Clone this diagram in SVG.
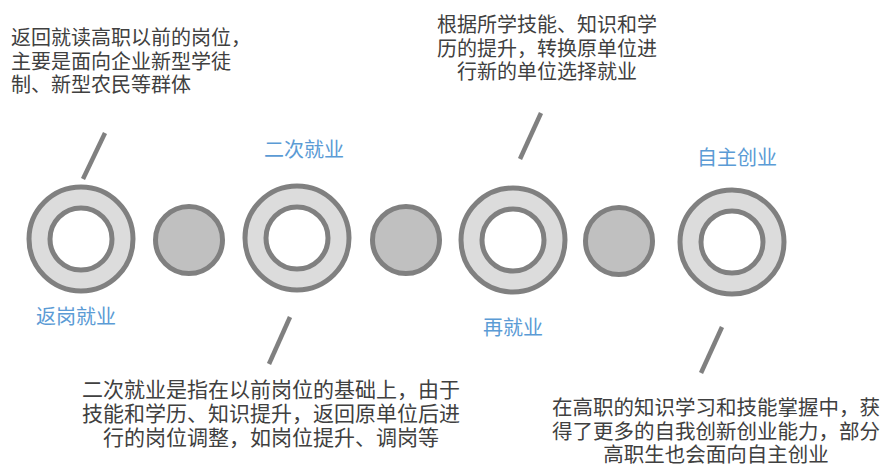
<svg xmlns="http://www.w3.org/2000/svg" width="890" height="466" viewBox="0 0 890 466">
<style>
.ring{fill:#dcdcdc;stroke:#808080;stroke-width:5}
.hole{fill:#ffffff;stroke:#808080;stroke-width:5}
.dot{fill:#c0c0c0;stroke:#808080;stroke-width:5}
.ln{stroke:#808080;stroke-width:4.5;fill:none}
.lbl{font-family:"Noto Sans CJK SC","Noto Sans",sans-serif;font-size:20px;fill:#5b9bd5;text-anchor:middle}
.txt{font-family:"Noto Sans CJK SC","Noto Sans",sans-serif;font-size:20px;fill:#404040}
</style>
<rect width="890" height="466" fill="#ffffff"/>
<g id="connectors">
<line class="ln" x1="105" y1="133" x2="83" y2="179"/>
<line class="ln" x1="290" y1="317" x2="269" y2="364"/>
<line class="ln" x1="541" y1="113" x2="520" y2="159"/>
<line class="ln" x1="722" y1="327" x2="701" y2="373"/>
</g>
<g id="node-fangang">
<circle class="ring" cx="81" cy="239" r="52"/>
<circle class="hole" cx="81" cy="239" r="31"/>
<text class="lbl" x="76" y="324">返岗就业</text>
</g>
<g id="dot-1"><circle class="dot" cx="189" cy="240" r="33.5"/></g>
<g id="node-erci">
<circle class="ring" cx="297" cy="238" r="52"/>
<circle class="hole" cx="297" cy="238" r="31"/>
<text class="lbl" x="304" y="157">二次就业</text>
</g>
<g id="dot-2"><circle class="dot" cx="406" cy="240" r="33.5"/></g>
<g id="node-zai">
<circle class="ring" cx="513" cy="240" r="52"/>
<circle class="hole" cx="513" cy="240" r="31"/>
<text class="lbl" x="513" y="335">再就业</text>
</g>
<g id="dot-3"><circle class="dot" cx="619" cy="241" r="33.5"/></g>
<g id="node-zizhu">
<circle class="ring" cx="732" cy="242" r="52"/>
<circle class="hole" cx="732" cy="242" r="31"/>
<text class="lbl" x="737" y="165">自主创业</text>
</g>
<g id="note-fangang">
<text class="txt" x="11" y="45">返回就读高职以前的岗位，</text>
<text class="txt" x="11" y="68.5">主要是面向企业新型学徒</text>
<text class="txt" x="11" y="92">制、新型农民等群体</text>
</g>
<g id="note-zai" text-anchor="middle">
<text class="txt" x="547" y="32">根据所学技能、知识和学</text>
<text class="txt" x="547" y="55.5">历的提升，转换原单位进</text>
<text class="txt" x="547" y="79">行新的单位选择就业</text>
</g>
<g id="note-erci" text-anchor="middle" style="font-size:21px">
<text class="txt" x="271" y="397" style="font-size:21px">二次就业是指在以前岗位的基础上，由于</text>
<text class="txt" x="271" y="421" style="font-size:21px">技能和学历、知识提升，返回原单位后进</text>
<text class="txt" x="271" y="445" style="font-size:21px">行的岗位调整，如岗位提升、调岗等</text>
</g>
<g id="note-zizhu" text-anchor="middle">
<text class="txt" x="716" y="415" style="font-size:20.5px">在高职的知识学习和技能掌握中，获</text>
<text class="txt" x="716" y="438.5" style="font-size:20.5px">得了更多的自我创新创业能力，部分</text>
<text class="txt" x="716" y="462" style="font-size:20.5px">高职生也会面向自主创业</text>
</g>
</svg>
